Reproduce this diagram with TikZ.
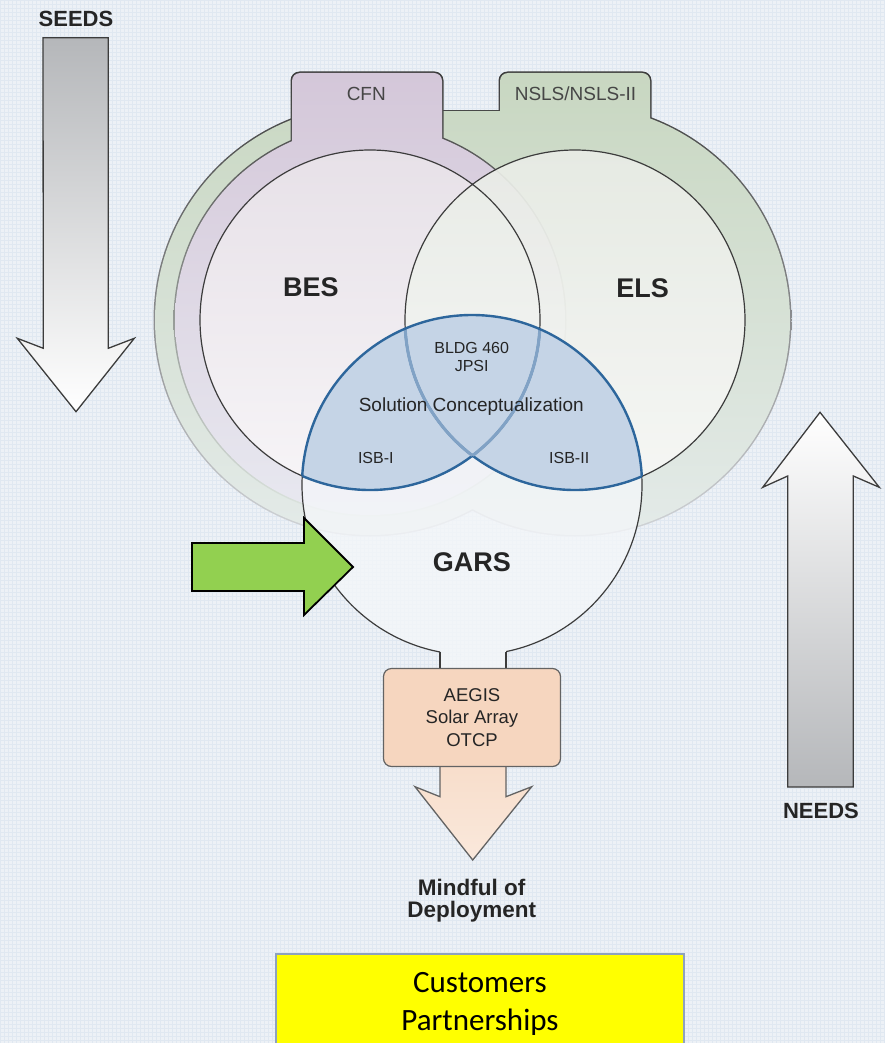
\documentclass[tikz,border=0pt]{standalone}
\usepackage{fontspec}
\setmainfont{Liberation Sans}
\newfontfamily\calfont{Carlito}
\usetikzlibrary{positioning}

\definecolor{bgc}{HTML}{EDF1F6}
\definecolor{gridc}{HTML}{E0E8F1}
\definecolor{edgec}{HTML}{3C3C3C}
\definecolor{sagec}{HTML}{C8D7C1}
\definecolor{lilacc}{HTML}{D4C7D9}
\definecolor{besc}{HTML}{E7E1E8}
\definecolor{elsc}{HTML}{E9ECE6}
\definecolor{solc}{HTML}{C5D4E6}
\definecolor{solline}{HTML}{2D669C}
\definecolor{garsc}{HTML}{F5F7FA}
\definecolor{shaftc}{HTML}{B5B7BA}
\definecolor{peachc}{HTML}{F6D6BF}
\definecolor{limec}{HTML}{92D050}
\definecolor{yellowc}{HTML}{FFFF00}
\definecolor{boxlinec}{HTML}{8EA2BE}
\definecolor{inkc}{HTML}{252525}

% one piece of a ring: clip to it, then shade a common band
\newcommand{\ringpiece}[3]{\begin{scope}\clip #1; \shade[#2] #3; \end{scope}}

\begin{document}
\begin{tikzpicture}[x=1pt, y=-1pt,
		lbl/.style = {anchor=base, inner sep=0pt, text=inkc},
		heavy/.style = {lbl, font=\bfseries\fontsize{22}{24}\selectfont},
		circlbl/.style = {lbl, font=\bfseries\fontsize{27}{30}\selectfont},
		tablbl/.style = {lbl, font=\fontsize{19}{21}\selectfont, text=inkc!85},
		sollbl/.style = {lbl, font=\fontsize{16}{18}\selectfont},
		ring/.style = {draw=edgec, line width=1.2pt},
		blueline/.style = {draw=solline, line width=2.4pt},
		innerblue/.style = {draw=solline!45!solc, line width=3pt},
		bigarrow/.style = {draw=edgec, line width=1.3pt, line join=miter},
		greenedge/.style = {top color=edgec, middle color=edgec!92!bgc, bottom color=bgc!75!gray},
		greenfill/.style = {top color=sagec, middle color=sagec, bottom color=sagec!25!bgc},
		lilacedge/.style = {top color=edgec, middle color=edgec!70!sagec, bottom color=sagec!40!bgc},
		lilacfill/.style = {top color=lilacc, middle color=lilacc, bottom color=lilacc!20!bgc},
	]

	\useasboundingbox (0,0) rectangle (884,1043);
	\fill[bgc] (0,0) rectangle (884,1043);
	\draw[gridc, line width=0.35pt, step=4pt] (0,1043) grid (884,0);

	\coordinate (bes) at (370,320);
	\coordinate (els) at (575,320);
	\coordinate (gars) at (472,485);
	\def\bandg{(0,71.5) rectangle (884,536.5)}
	\def\bandp{(0,71.5) rectangle (884,516.5)}

	% outer ring with the NSLS tab
	\ringpiece{(bes) circle (216.5)}{greenedge}{\bandg}
	\ringpiece{(els) circle (216.5)}{greenedge}{\bandg}
	\ringpiece{[rounded corners=9pt] (498.5,71.5) rectangle (651.5,240)}{greenedge}{\bandg}
	\ringpiece{(440.5,110.5) rectangle (501.5,240)}{greenedge}{\bandg}
	\ringpiece{(bes) circle (215)}{greenfill}{\bandg}
	\ringpiece{(els) circle (215)}{greenfill}{\bandg}
	\ringpiece{[rounded corners=8pt] (500,73) rectangle (650,240)}{greenfill}{\bandg}
	\ringpiece{(442,112) rectangle (500,240)}{greenfill}{\bandg}

	% inner ring with the CFN tab
	\ringpiece{(bes) circle (196.5)}{lilacedge}{\bandp}
	\ringpiece{[rounded corners=9pt] (290.5,71.5) rectangle (443.5,240)}{lilacedge}{\bandp}
	\ringpiece{(bes) circle (195)}{lilacfill}{\bandp}
	\ringpiece{[rounded corners=8pt] (292,73) rectangle (442,240)}{lilacfill}{\bandp}

	% GARS bulb
	\fill[garsc, opacity=.75] (gars) circle (170);
	\begin{scope}
		\clip (440.7,600) rectangle (505.3,668);
		\fill[garsc, opacity=.75, even odd rule] (440.7,600) rectangle (505.3,668) (gars) circle (170);
	\end{scope}
	\begin{scope}
		\clip (0,0) rectangle (440,1043) (506,0) rectangle (884,1043) (440,0) rectangle (506,640);
		\draw[ring] (gars) circle (170);
	\end{scope}
	\draw[ring] (440,652) -- (440,668) (506,651.6) -- (506,668);

	% BES and ELS
	\shade[top color=besc, bottom color=besc!35!white] (bes) circle (170);
	\shade[top color=elsc, bottom color=elsc!35!white, opacity=.92] (els) circle (170);
	\draw[ring] (bes) circle (170) (els) circle (170);

	% solution area
	\begin{scope}
		\clip (gars) circle (170);
		\fill[solc] (bes) circle (170);
		\fill[solc] (els) circle (170);
		\draw[blueline] (bes) circle (170) (els) circle (170);
	\end{scope}
	\begin{scope}
		\clip (gars) circle (170);
		\clip (els) circle (170);
		\draw[innerblue] (bes) circle (170);
	\end{scope}
	\begin{scope}
		\clip (gars) circle (170);
		\clip (bes) circle (170);
		\draw[innerblue] (els) circle (170);
	\end{scope}
	\begin{scope}
		\clip (bes) circle (170) (els) circle (170);
		\draw[blueline] (gars) circle (170);
	\end{scope}

	% seeds and needs
	\draw[bigarrow, top color=shaftc, middle color=shaftc!35!white, bottom color=white]
		(43,37.7) -- (108.3,37.7) -- (108.3,348.3) -- (134.3,338.3) -- (76,411.7) -- (17.3,338.3) -- (43.3,348.3) -- cycle;
	\draw[bigarrow, bottom color=shaftc, middle color=shaftc!35!white, top color=white]
		(787.7,787) -- (853.3,787) -- (853.3,476) -- (879.3,487.3) -- (820,412.3) -- (762.7,487.3) -- (787.7,476) -- cycle;
	\node[heavy] (seeds) at (76,26.7) {SEEDS};
	\node[heavy] (needs) at (821,818.3) {NEEDS};

	% green pointer
	\draw[fill=limec, draw=black, line width=1.8pt, line join=miter]
		(192,543) -- (304,543) -- (304,518) -- (353,567) -- (304,615) -- (304,591) -- (192,591) -- cycle;

	% deployment arrow and box
	\draw[bigarrow, draw=edgec!80, top color=peachc, bottom color=peachc!55!white]
		(440,700) -- (440,796.7) -- (415,786.7) -- (472.7,860) -- (531.7,786.7) -- (506,796.7) -- (506,700) -- cycle;
	\node[draw=edgec!80, line width=1.2pt, fill=peachc, rounded corners=8pt, minimum width=177pt, minimum height=98pt,
		align=center, font=\fontsize{18.5}{22.5}\selectfont, text=inkc] (aegis) at (472,717.5) {AEGIS\\Solar Array\\OTCP};

	\node[heavy, font=\bfseries\fontsize{22.5}{24}\selectfont] (mindful) at (471.7,895.7) {Mindful of};
	\node[heavy, font=\bfseries\fontsize{22.5}{24}\selectfont] (deploy) at (471.7,917.7) {Deployment};

	% labels
	\node[tablbl] (cfn) at (366.3,100.7) {CFN};
	\node[tablbl] (nsls) at (575.5,100.7) {NSLS/NSLS-II};
	\node[circlbl] (besl) at (311,296.7) {BES};
	\node[circlbl] (elsl) at (642.5,297.3) {ELS};
	\node[sollbl] (bldg) at (471.7,353.3) {BLDG 460};
	\node[sollbl] (jpsi) at (471.7,371.7) {JPSI};
	\node[lbl, font=\fontsize{19}{21}\selectfont] (solcon) at (471.3,411.7) {Solution Conceptualization};
	\node[sollbl] (isbi) at (375.8,463.3) {ISB-I};
	\node[sollbl] (isbii) at (569.2,463.3) {ISB-II};
	\node[circlbl] (garsl) at (471.8,571.7) {GARS};

	% customers box
	\draw[fill=yellowc, draw=boxlinec, line width=1.5pt] (276,954) rectangle (684,1050);
	\node[lbl, text=black, font=\calfont\fontsize{31}{36}\selectfont] (cust) at (480,992) {Customers};
	\node[lbl, text=black, font=\calfont\fontsize{31}{36}\selectfont] (partn) at (480,1030) {Partnerships};

\end{tikzpicture}
\end{document}
